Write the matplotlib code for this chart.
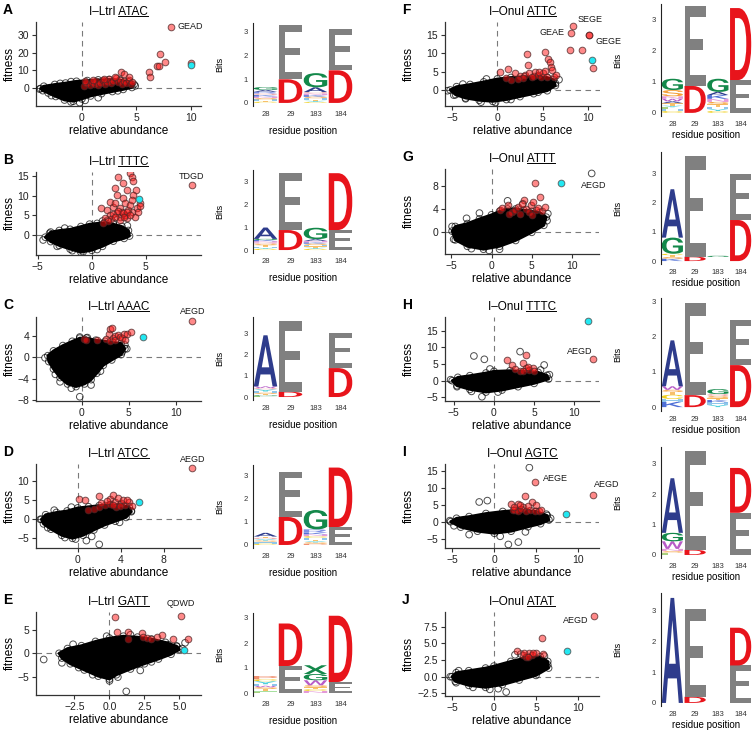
import matplotlib
matplotlib.use('Agg')
import matplotlib.pyplot as plt
from matplotlib.textpath import TextPath
from matplotlib.font_manager import FontProperties
from matplotlib.patches import PathPatch
from matplotlib.transforms import Affine2D
from matplotlib.lines import Line2D

plt.rcParams['font.family'] = ['Liberation Sans', 'DejaVu Sans']

# ---------------------------------------------------------------- data
# ---- A : I-LtrI ATAC
A_cloud_x = [-3.8, -3.5, -2.5, -1.5, -0.5, 0.5, 1.5, 2.5, 3.5, 4.3, 4.8, 4.6, 3.8, 2.8, 1.8, 0.8, 0.0, -0.8, -1.6, -2.4, -3.1, -3.6]
A_cloud_y = [-0.3, 1.0, 2.0, 2.8, 3.8, 4.2, 4.6, 4.8, 4.5, 3.5, 2.0, 0.3, -0.8, -2.0, -3.2, -4.5, -6.2, -7.5, -6.8, -4.8, -2.8, -1.5]
A_hol_x = [-3.9, -1.0, -0.2, 1.5, -2.8, 0.3, -2.0, -1.0, 4.9, 3.3]
A_hol_y = [-0.6, -7.9, -8.3, -5.5, -4.3, -7.0, 2.6, 3.6, 1.2, -1.6]
A_red_x = [0.2, 0.4, 0.7, 0.9, 1.1, 1.3, 1.5, 1.7, 1.9, 2.1, 2.3, 2.5, 2.7, 2.9, 3.1, 3.3, 3.5, 3.7, 3.9, 4.1, 4.3, 4.5, 4.6, 3.0, 2.0, 1.0, 0.3, 3.6, 3.9, 4.3,
           6.2, 6.3, 6.9, 7.05, 7.2, 7.6, 10.0]
A_red_y = [1.2, 2.6, 1.8, 3.4, 2.4, 4.0, 1.6, 3.0, 4.4, 2.2, 3.6, 5.0, 2.8, 4.2, 5.6, 3.2, 4.8, 2.4, 4.0, 3.0, 4.6, 2.2, 3.6, 6.5, 5.2, 4.6, 3.8, 9.0, 8.0, 6.3,
           9.3, 6.2, 12.2, 12.6, 19.0, 14.6, 13.9]
A_cyan_x = [10.0]
A_cyan_y = [13.0]
A_lab_x = [8.2]
A_lab_y = [34.6]
A_lab_txt = ['GEAD']
A_lab_red = [True]

# ---- B : I-LtrI TTTC
B_cloud_x = [-4.3, -3.8, -3.0, -2.0, -1.0, -0.2, 0.5, 1.2, 2.0, 2.8, 3.4, 3.5, 3.0, 2.0, 1.0, 0.0, -1.0, -2.0, -3.0, -3.8]
B_cloud_y = [-0.5, 0.8, 1.2, 1.5, 2.2, 2.8, 3.0, 3.2, 2.8, 2.2, 1.2, -0.2, -0.8, -1.5, -2.8, -3.8, -4.3, -3.5, -2.6, -1.6]
B_hol_x = [-4.5, -3.2, -1.8, -0.8, 0.5, 1.0, 1.5, 2.0, -3.9, -2.5, 3.3]
B_hol_y = [-1.2, -2.8, -3.9, -4.2, -3.6, 3.6, 3.8, 3.3, 0.5, 1.8, 2.4]
B_red_x = [2.47, 3.55, 3.70, 2.93, 3.85, 2.16, 3.24, 4.10, 2.31, 1.69, 2.93, 3.85, 4.47, 4.17, 3.70, 4.0, 0.85, 1.39, 2.0, 2.62,
           3.08, 3.39, 2.31, 1.69, 1.23, 2.62, 3.08, 3.55, 2.78, 2.16, 3.70, 3.24, 2.0, 2.4, 2.9, 3.3, 1.8, 2.6, 3.0, 1.5,
           1.0, 2.2, 3.5, 4.3, 4.5]
B_red_y = [14.8, 15.7, 14.8, 13.2, 13.6, 11.9, 11.5, 11.5, 10.2, 8.5, 9.4, 10.2, 8.1, 6.8, 6.0, 4.7, 6.8, 6.4, 7.2, 6.8,
           8.1, 6.4, 5.6, 5.1, 4.3, 4.7, 5.1, 7.7, 6.0, 8.1, 8.9, 4.3, 5.5, 6.2, 5.6, 6.0, 4.0, 3.8, 4.5, 3.5,
           3.2, 4.6, 5.2, 5.8, 7.3]
B_cyan_x = [4.4]
B_cyan_y = [9.1]
B_lab_x = [9.26]
B_lab_y = [12.7]
B_lab_txt = ['TDGD']
B_lab_red = [True]

# ---- C : I-LtrI AAAC
C_cloud_x = [-3.6, -3.0, -2.0, -1.0, -0.2, 0.5, 1.5, 2.5, 3.3, 4.2, 4.6, 4.2, 3.2, 2.3, 1.6, 1.0, 0.3, -0.6, -1.5, -2.3, -3.0, -3.5]
C_cloud_y = [0.3, 1.2, 2.2, 3.0, 3.6, 3.6, 3.2, 3.0, 2.8, 2.6, 1.6, 0.5, -0.5, -1.5, -3.0, -4.2, -5.0, -5.5, -5.0, -3.8, -2.2, -0.8]
C_hol_x = [-3.9, -0.2, 1.0, -1.1, -2.3, -0.2, 0.6, 4.6, 4.8, 4.3, -2.8, 2.0]
C_hol_y = [-0.1, -7.4, -5.2, -5.8, -4.6, 3.8, 3.7, 2.3, 1.6, 1.0, -3.2, -2.6]
C_red_x = [0.2, 0.5, 1.6, 2.9, 3.0, 3.2, 2.6, 3.0, 3.3, 3.6, 3.5, 3.9, 4.1, 4.3, 4.5, 4.8, 5.2, 4.6]
C_red_y = [3.4, 3.2, 3.3, 4.3, 5.3, 5.5, 3.5, 3.1, 3.6, 4.0, 3.3, 4.1, 3.8, 3.6, 4.3, 4.4, 4.7, 3.3]
C_cyan_x = [6.49]
C_cyan_y = [3.87]
C_lab_x = [11.77]
C_lab_y = [6.9]
C_lab_txt = ['AEGD']
C_lab_red = [True]

# ---- D : I-LtrI ATCC
D_cloud_x = [-3.4, -3.0, -2.0, -1.0, 0.0, 1.0, 2.0, 3.0, 4.0, 4.8, 5.0, 4.5, 3.5, 2.5, 1.5, 0.5, -0.5, -1.5, -2.5, -3.2]
D_cloud_y = [0.0, 1.2, 1.8, 2.2, 3.0, 3.3, 3.6, 3.8, 3.8, 3.2, 2.0, 0.5, -0.5, -1.5, -2.8, -4.2, -5.0, -4.2, -2.6, -1.2]
D_hol_x = [-3.5, -2.8, -0.2, 0.8, 2.0, 1.3, -1.2, 3.9, 5.0, -2.2, -0.6]
D_hol_y = [0.0, -2.2, -5.2, -5.6, -6.6, -4.5, -4.8, -0.8, 2.2, 2.4, 3.2]
D_red_x = [0.1, 0.7, 2.0, 3.0, 3.3, 2.5, 3.0, 3.5, 3.8, 4.0, 4.4, 4.8, 5.1, 1.5, 2.0, 1.0, 3.6, 4.2, 2.7, 4.6, 2.2, 3.3, 3.9]
D_red_y = [5.3, 5.2, 6.0, 5.3, 6.3, 3.7, 4.0, 4.5, 5.5, 4.2, 3.8, 4.5, 3.5, 2.8, 3.3, 2.5, 3.2, 5.0, 4.8, 5.2, 4.3, 3.7, 3.6]
D_cyan_x = [5.67]
D_cyan_y = [4.6]
D_lab_x = [10.7]
D_lab_y = [13.4]
D_lab_txt = ['AEGD']
D_lab_red = [True]

# ---- E : I-LtrI GATT
E_cloud_x = [-3.6, -3.0, -2.0, -1.0, 0.0, 1.0, 2.0, 3.0, 4.0, 4.8, 5.0, 4.4, 3.5, 2.5, 1.5, 0.5, 0.0, -0.8, -1.8, -2.8, -3.4]
E_cloud_y = [0.0, 1.0, 1.6, 2.5, 3.2, 3.6, 3.4, 3.0, 2.3, 1.5, 0.8, -0.2, -1.2, -2.2, -3.3, -4.5, -5.4, -4.8, -3.5, -2.2, -1.0]
E_hol_x = [-4.7, -3.4, -2.2, -1.2, 0.0, 0.6, 1.2, 2.2, 4.2, 4.8, 5.2, 5.4, -0.2, 1.5, -2.6, 3.0]
E_hol_y = [-1.3, -2.0, -3.0, -4.5, -5.8, -5.0, -8.0, -3.6, 1.8, 1.5, 1.0, 2.2, 3.6, 3.9, 1.9, -1.8]
E_red_x = [0.39, 0.51, 1.34, 1.34, 2.3, 2.37, 2.65, 3.0, 3.37, 3.73, 4.56, 5.63]
E_red_y = [7.56, 4.41, 4.54, 3.0, 4.2, 3.5, 3.15, 3.0, 3.5, 3.85, 3.0, 3.0]
E_cyan_x = [5.3]
E_cyan_y = [0.7]
E_lab_x = [5.1]
E_lab_y = [7.9]
E_lab_txt = ['QDWD']
E_lab_red = [True]

# ---- F : I-OnuI ATTC
F_cloud_x = [-5.2, -4.5, -3.0, -1.5, 0.0, 1.5, 3.0, 4.5, 5.5, 6.2, 6.4, 5.5, 4.0, 2.5, 1.0, -0.5, -2.0, -3.5, -4.6]
F_cloud_y = [0.0, 0.9, 1.5, 2.2, 3.0, 3.4, 3.6, 3.6, 3.4, 2.8, 1.2, -0.2, -1.0, -1.8, -2.6, -3.1, -2.8, -2.2, -1.3]
F_hol_x = [-5.5, -4.8, -3.5, -1.8, -0.2, 1.5, 4.5, 6.4, 6.8, -1.2, -3.8]
F_hol_y = [-0.2, -1.4, -2.4, -3.3, -3.4, -2.6, -0.6, 1.8, 2.8, 3.0, 1.6]
F_red_x = [0.3, 1.0, 1.2, 2.0, 2.5, 3.0, 3.4, 3.24, 3.5, 4.0, 4.2, 4.5, 4.8, 5.0, 5.26, 5.3, 5.5, 5.6, 5.8, 5.9, 6.0, 6.2, 6.5,
           2.8, 3.8, 4.6, 1.5, 2.3, 8.0, 9.3, 10.5, 10.15]
F_red_y = [5.0, 3.2, 5.6, 4.5, 3.8, 4.2, 6.8, 9.8, 4.5, 3.8, 5.0, 4.0, 3.4, 4.5, 10.3, 5.2, 3.6, 8.4, 7.5, 6.3, 5.5, 3.5, 4.1,
           3.2, 3.5, 4.8, 2.8, 3.0, 10.9, 10.9, 5.9, 15.0]
F_cyan_x = [10.4]
F_cyan_y = [8.2]
F_lab_x = [8.3, 8.1, 10.15]
F_lab_y = [17.5, 15.6, 15.0]
F_lab_txt = ['SEGE', 'GEAE', 'GEGE']
F_lab_red = [True, True, True]

# ---- G : I-OnuI ATTT
G_cloud_x = [-4.9, -4.5, -3.0, -1.5, 0.0, 1.0, 2.0, 3.0, 4.0, 5.0, 6.0, 6.8, 6.5, 5.0, 3.0, 1.0, -1.0, -3.0, -4.5]
G_cloud_y = [0.2, 1.0, 1.5, 2.3, 3.0, 3.6, 4.0, 4.0, 3.8, 3.6, 3.4, 2.6, 1.2, 0.0, -1.4, -2.4, -2.9, -2.4, -1.3]
G_hol_x = [-4.9, -4.7, -3.1, -1.5, -2.5, -0.3, 1.0, 2.0, 3.9, 6.9, 7.0]
G_hol_y = [1.0, -1.2, 2.4, 3.3, -2.8, -3.1, -2.9, 5.4, 4.9, 2.0, 3.2]
G_red_x = [1.1, 1.3, 2.0, 2.5, 2.9, 3.3, 3.6, 4.0, 4.3, 4.6, 4.9, 5.2, 5.5, 5.0, 5.8, 6.0, 6.3, 6.7, 5.4, 3.8, 2.2]
G_red_y = [3.9, 4.2, 4.7, 3.5, 3.8, 4.3, 3.2, 5.5, 4.0, 3.4, 4.6, 5.2, 3.8, 3.0, 4.2, 6.1, 3.6, 4.4, 8.4, 4.8, 3.1]
G_cyan_x = [8.68]
G_cyan_y = [8.5]
G_lab_x = [12.45]
G_lab_y = [10.1]
G_lab_txt = ['AEGD']
G_lab_red = [False]

# ---- H : I-OnuI TTTC
H_cloud_x = [-5.2, -4.5, -3.0, -1.0, 0.0, 2.0, 4.0, 5.5, 6.6, 6.8, 5.0, 3.0, 1.0, -1.0, -3.0, -4.6]
H_cloud_y = [0.0, 1.0, 1.5, 2.3, 2.8, 3.0, 2.8, 2.5, 1.6, 0.5, -0.8, -1.8, -2.8, -3.4, -2.6, -1.5]
H_hol_x = [-5.4, -4.6, -2.5, -1.2, -1.5, -2.8, 0.5, 3.25, 6.25, 6.9, 5.8, -0.5]
H_hol_y = [0.3, -1.8, 7.4, 6.4, -4.8, -3.2, -3.4, 8.7, 4.7, 1.8, 3.2, 3.5]
H_red_x = [1.67, 3.96, 3.58, 2.2, 3.3, 4.0, 4.4, 4.8, 5.0, 3.6, 4.2, 2.6]
H_red_y = [6.2, 7.7, 5.4, 4.7, 3.0, 3.8, 3.2, 3.8, 3.0, 2.8, 4.2, 3.4]
H_cyan_x = [11.7]
H_cyan_y = [17.9]
H_lab_x = [12.3]
H_lab_y = [6.4]
H_lab_txt = ['AEGD']
H_lab_red = [True]

# ---- I : I-OnuI AGTC
I_cloud_x = [-5.2, -4.5, -3.0, -1.0, 1.0, 3.0, 5.0, 6.3, 6.5, 5.5, 4.0, 2.0, 0.0, -2.0, -4.0]
I_cloud_y = [0.0, 1.0, 1.5, 2.4, 3.0, 3.4, 3.0, 1.8, 0.5, -0.6, -1.5, -2.8, -3.4, -2.8, -1.6]
I_hol_x = [-5.3, -4.8, -3.0, -1.8, -0.83, 0.7, 1.67, 2.86, 3.7, 6.2, 6.7, 4.17]
I_hol_y = [0.3, -1.2, -3.8, 5.8, 6.2, -4.3, -6.7, -6.0, -3.0, 2.2, 1.0, 15.9]
I_red_x = [3.65, 2.0, 2.5, 2.8, 3.4, 4.45, 5.0, 2.2, 2.8, 3.2, 3.8, 4.2, 4.8, 5.3, 5.6, 3.0, 4.0, 2.4]
I_red_y = [7.5, 5.3, 3.5, 5.2, 4.4, 5.8, 5.0, 3.4, 3.0, 3.8, 3.0, 3.5, 3.2, 3.0, 3.3, 4.8, 4.5, 4.2]
I_cyan_x = [8.54]
I_cyan_y = [2.2]
I_lab_x = [4.9, 11.7]
I_lab_y = [11.8, 7.8]
I_lab_txt = ['AEGE', 'AEGD']
I_lab_red = [True, True]

# ---- J : I-OnuI ATAT
J_cloud_x = [-5.0, -4.5, -3.0, -1.0, 0.0, 2.0, 4.0, 5.5, 6.4, 6.5, 5.0, 3.0, 1.0, -1.0, -3.0, -4.6]
J_cloud_y = [0.0, 0.6, 0.9, 1.3, 1.6, 2.3, 2.9, 3.0, 2.3, 1.3, 0.2, -0.5, -1.2, -1.6, -1.3, -0.7]
J_hol_x = [-5.2, -4.5, -2.5, -0.5, 1.45, 0.5, 2.5, 3.2, 6.0, 6.4, -4.2]
J_hol_y = [0.0, -0.9, -1.6, -1.9, -2.3, -1.8, 3.3, 3.4, 3.1, 1.8, 0.9]
J_red_x = [5.67, 2.75, 3.4, 3.8, 4.2, 4.5, 5.0, 5.8, 4.7, 3.6, 4.0]
J_red_y = [5.8, 3.9, 3.3, 3.0, 3.5, 3.3, 3.5, 3.4, 3.6, 3.6, 3.0]
J_cyan_x = [8.65]
J_cyan_y = [3.9]
J_lab_x = [11.9]
J_lab_y = [9.2]
J_lab_txt = ['AEGD']
J_lab_red = [True]

# ---- titles
enzymes = ['I–LtrI'] * 5 + ['I–OnuI'] * 5
targets = ['ATAC', 'TTTC', 'AAAC', 'ATCC', 'GATT', 'ATTC', 'ATTT', 'TTTC', 'AGTC', 'ATAT']
panel_letters = ['A', 'B', 'C', 'D', 'E', 'F', 'G', 'H', 'I', 'J']

# ---- sequence logos: residue positions and stacks (letter, bits) bottom -> top
residues = ['28', '29', '183', '184']
logo_A = [[('C', .05), ('T', .05), ('H', .05), ('S', .06), ('N', .06), ('K', .06), ('Q', .07), ('R', .07), ('A', .08), ('G', .12)],
          [('D', 1.0), ('E', 2.3)],
          [('C', .04), ('Y', .05), ('T', .05), ('H', .06), ('S', .06), ('K', .07), ('N', .07), ('Q', .06), ('A', .2), ('G', .6)],
          [('D', 1.38), ('E', 1.75)]]
logo_B = [[('C', .05), ('Y', .05), ('H', .05), ('T', .06), ('S', .06), ('Q', .06), ('N', .06), ('K', .05), ('G', .05), ('A', .5)],
          [('D', .88), ('E', 2.5)],
          [('C', .05), ('Y', .05), ('T', .06), ('H', .06), ('S', .06), ('K', .06), ('N', .06), ('A', .08), ('G', .5)],
          [('E', .88), ('D', 2.5)]]
logo_C = [[('L', .04), ('G', .04), ('T', .06), ('S', .06), ('H', .06), ('Y', .1), ('Q', .06), ('W', .08), ('A', 2.4)],
          [('D', .25), ('E', 3.3)],
          [],
          [('D', 1.36), ('E', 1.64)]]
logo_D = [[('C', .06), ('H', .08), ('S', .05), ('Y', .06), ('Q', .06), ('T', .05), ('A', .16)],
          [('D', 1.2), ('E', 1.95)],
          [('P', .05), ('S', .06), ('Y', .06), ('T', .06), ('H', .08), ('C', .07), ('N', .08), ('K', .07), ('R', .14), ('G', .83)],
          [('E', .77), ('D', 2.55)]]
logo_E = [[('L', .05), ('I', .05), ('T', .06), ('S', .07), ('W', .06), ('H', .06), ('Y', .12), ('C', .08), ('P', .13)],
          [('E', 1.08), ('D', 1.7)],
          [('N', .08), ('C', .07), ('T', .08), ('S', .08), ('W', .2), ('G', .25), ('X', .35)],
          [('E', .44), ('D', 2.65)]]
logo_F = [[('C', .06), ('H', .06), ('L', .06), ('Y', .05), ('T', .08), ('A', .06), ('W', .08), ('N', .08), ('S', .2), ('G', .36)],
          [('D', .86), ('E', 2.55)],
          [('C', .06), ('Y', .06), ('H', .08), ('T', .07), ('S', .08), ('N', .1), ('K', .12), ('A', .1), ('G', .42)],
          [('E', 1.05), ('D', 2.3)]]
logo_G = [[('K', .08), ('S', .06), ('T', .06), ('C', .05), ('G', .55), ('A', 1.65)],
          [('D', .15), ('E', 3.45)],
          [(' ', .14), ('G', .04)],
          [('D', 1.4), ('E', 1.57)]]
logo_H = [[('K', .15), ('H', .08), ('C', .12), ('T', .08), ('S', .06), ('W', .1), ('A', 1.3)],
          [('D', .34), ('E', 2.6)],
          [('Y', .06), ('H', .08), ('K', .06), ('T', .05), ('S', .06), ('Q', .06), ('G', .14)],
          [('D', 1.19), ('E', 1.27)]]
logo_I = [[('L', .08), ('S', .05), ('N', .07), ('W', .25), ('G', .28), ('A', 1.8)],
          [('D', .17), ('E', 3.25)],
          [],
          [('E', 1.39), ('D', 1.48)]]
logo_J = [[('A', 3.42)],
          [('D', .2), ('E', 2.86)],
          [],
          [('E', 1.22), ('D', 1.23)]]

# ---------------------------------------------------------------- style
W, H = 753, 730
fig = plt.figure(figsize=(W / 100, H / 100), dpi=100)

COLORS = {'E': '#808080', 'D': '#E8141B', 'A': '#2E3C8C', 'G': '#13884A',
          'S': '#F5A03A', 'T': '#F7C06A', 'C': '#F0D020', 'Y': '#4FD0DC',
          'H': '#8FC6EA', 'K': '#4F6FD6', 'R': '#7F8FE6', 'N': '#E49AD8',
          'Q': '#F3A6A6', 'W': '#B85CC8', 'L': '#A8D080', 'I': '#A8E0A0',
          'V': '#13884A', 'X': '#13884A', 'P': '#F09070', 'M': '#60C0B0', 'F': '#F080B0',
          ' ': 'none'}
LOGO_FP = FontProperties(family='Roboto', weight='medium')


def px_axes(l, t, r, b):
    return fig.add_axes([l / W, 1 - b / H, (r - l) / W, (b - t) / H])


def fy(y):
    return 1 - y / H


def fx(x):
    return x / W


SC_BOX = [(36, 22, 201, 106), (36, 172, 201, 255), (36, 317, 201, 401), (36, 464, 201, 548), (36, 612, 201, 695),
          (445, 22, 600, 106), (445, 169, 599, 254), (445, 317, 599, 401), (445, 464, 599, 548), (445, 612, 599, 696)]
SC_XLIM = [(-4.22, 10.95), (-5.16, 10.12), (-4.86, 12.7), (-3.9, 11.5), (-5.25, 6.54),
           (-5.77, 11.32), (-5.78, 13.36), (-6.1, 13.08), (-5.87, 12.46), (-5.83, 12.5)]
SC_YLIM = [(-10.2, 37.4), (-5.0, 16.0), (-8.2, 7.56), (-7.55, 14.55), (-8.76, 8.68),
           (-4.36, 18.5), (-3.72, 10.86), (-6.08, 19.07), (-7.74, 16.97), (-2.9, 9.73)]
SC_XT = [[0, 5, 10], [-5, 0, 5], [0, 5, 10], [0, 4, 8], [-2.5, 0, 2.5, 5.0],
         [-5, 0, 5, 10], [-5, 0, 5, 10], [-5, 0, 5, 10], [-5, 0, 5, 10], [-5, 0, 5, 10]]
SC_YT = [[0, 10, 20, 30], [0, 5, 10, 15], [-8, -4, 0, 4], [-5, 0, 5, 10], [-5, 0, 5],
         [0, 5, 10, 15], [0, 4, 8], [-5, 0, 5, 10, 15], [-5, 0, 5, 10, 15], [-2.5, 0, 2.5, 5, 7.5]]
SC_XFMT = ['{:g}'] * 4 + ['{:.1f}'] + ['{:g}'] * 5
SC_YFMT = ['{:g}'] * 9 + ['{:.1f}']

LOGO_BOX = [(253, 23, 353, 106), (253, 170, 353, 253), (253, 317, 353, 400), (253, 465, 353, 548), (253, 613, 353, 696),
            (661, 4, 752, 116), (661, 152, 752, 264), (661, 298, 752, 411), (661, 447, 752, 558), (661, 593, 752, 706)]
LOGO_YLIM = [(-0.13, 3.38), (-0.13, 3.52), (-0.14, 3.76), (-0.13, 3.43), (-0.12, 3.2),
             (-0.1, 3.48), (-0.1, 3.72), (-0.11, 3.09), (-0.1, 3.56), (-0.1, 3.58)]

# label offsets in pixels (dx, dy up), alignment
LAB_OFF = [[(6, 0, 'left')], [(0, 9, 'center')], [(0, 9, 'center')], [(0, 9, 'center')], [(0, 12, 'center')],
           [(5, 6, 'left'), (-6, 0, 'right'), (6, -7, 'left')], [(2, -12, 'center')], [(-13, 8, 'center')],
           [(7, 3, 'left'), (14, 11, 'center')], [(-18, -5, 'center')]]

panels = []
for p in panel_letters:
    g = globals()
    panels.append(dict(cloud=(g[p + '_cloud_x'], g[p + '_cloud_y']), hol=(g[p + '_hol_x'], g[p + '_hol_y']),
                       red=(g[p + '_red_x'], g[p + '_red_y']), cyan=(g[p + '_cyan_x'], g[p + '_cyan_y']),
                       lab=(g[p + '_lab_x'], g[p + '_lab_y'], g[p + '_lab_txt'], g[p + '_lab_red'])))
logos = [logo_A, logo_B, logo_C, logo_D, logo_E, logo_F, logo_G, logo_H, logo_I, logo_J]

MS = 23
HOL_KW = dict(s=MS, facecolors='none', edgecolors=(0, 0, 0, 0.7), linewidths=0.7)
RED_KW = dict(s=MS, facecolors=(1, 0.08, 0.08, 0.5), edgecolors=(0.3, 0.15, 0.15, 0.75), linewidths=0.7)
CYAN_KW = dict(s=MS, facecolors='#22E8F2', edgecolors=(0.3, 0.3, 0.3, 0.8), linewidths=0.7)

title_objs = []
for i, pd in enumerate(panels):
    ax = px_axes(*SC_BOX[i])
    ax.set_xlim(SC_XLIM[i])
    ax.set_ylim(SC_YLIM[i])
    ax.axhline(0, color='#7a7a7a', lw=0.8, ls=(0, (5, 4)), zorder=1)
    ax.axvline(0, color='#7a7a7a', lw=0.8, ls=(0, (5, 4)), zorder=1)
    cx, cy = pd['cloud']
    ax.fill(cx, cy, facecolor='black', edgecolor='black', lw=2.0, joinstyle='round', zorder=2)
    ax.scatter(cx, cy, zorder=3, **HOL_KW)
    ax.scatter(*pd['hol'], zorder=3, **HOL_KW)
    ax.scatter(*pd['red'], zorder=4, **RED_KW)
    ax.scatter(*pd['cyan'], zorder=5, **CYAN_KW)
    lx, ly, lt, lr = pd['lab']
    for j in range(len(lx)):
        kw = RED_KW if lr[j] else HOL_KW
        ax.scatter([lx[j]], [ly[j]], zorder=4, clip_on=False, **kw)
        dx, dy, ha = LAB_OFF[i][j]
        ax.annotate(lt[j], (lx[j], ly[j]), xytext=(dx, dy), textcoords='offset pixels',
                    ha=ha, va='center', fontsize=6.5, color='#1a1a1a', annotation_clip=False)
    for s in ['top', 'right']:
        ax.spines[s].set_visible(False)
    for s in ['left', 'bottom']:
        ax.spines[s].set_color('#333333')
        ax.spines[s].set_linewidth(0.9)
    ax.set_xticks(SC_XT[i])
    ax.set_xticklabels([SC_XFMT[i].format(v).replace('-', '−') for v in SC_XT[i]])
    ax.set_yticks(SC_YT[i])
    ax.set_yticklabels([SC_YFMT[i].format(v).replace('-', '−') for v in SC_YT[i]])
    ax.tick_params(length=3, width=0.8, color='#333333', labelsize=7.5, labelcolor='#222222', pad=2)
    l, t, r, b = SC_BOX[i]
    fig.text(fx((l + r) / 2), fy(b + 25), 'relative abundance', ha='center', va='center', fontsize=8.5)
    fig.text(fx(10 if i < 5 else 409), fy((t + b) / 2), 'fitness', ha='center', va='center',
             rotation=90, fontsize=8.5)
    tt = fig.text(fx((l + r) / 2), fy(t - 10), enzymes[i] + ' ' + targets[i], ha='center', va='center',
                  fontsize=8.5)
    title_objs.append((tt, targets[i]))
    fig.text(fx(3 if i < 5 else 402), fy(t - 12), panel_letters[i], ha='left', va='center',
             fontsize=10, fontweight='bold')


def draw_letter(ax, ch, xc, y0, h, color, w):
    if ch == ' ' or h <= 0:
        return
    tp = TextPath((0, 0), ch, size=1, prop=LOGO_FP)
    bb = tp.get_extents()
    tr = Affine2D().translate(-bb.x0, -bb.y0).scale(w / bb.width, h / bb.height).translate(xc - w / 2, y0)
    ax.add_patch(PathPatch(tr.transform_path(tp), facecolor=color, edgecolor='none', lw=0))


for i, cols in enumerate(logos):
    ax = px_axes(*LOGO_BOX[i])
    ax.set_xlim(0.5, 4.5)
    ax.set_ylim(LOGO_YLIM[i])
    w = 0.94 if i < 5 else 0.93
    for k, col in enumerate(cols):
        y = 0.0
        for ch, hgt in col:
            draw_letter(ax, ch, k + 1, y, hgt, COLORS[ch], w)
            y += hgt
    for s in ['top', 'right', 'bottom']:
        ax.spines[s].set_visible(False)
    ax.spines['left'].set_color('#222222')
    ax.spines['left'].set_linewidth(0.8)
    ax.set_xticks([1, 2, 3, 4])
    ax.set_xticklabels(residues)
    ax.set_yticks([0, 1, 2, 3])
    ax.tick_params(length=0, labelsize=5.5, labelcolor='#333333', pad=3.5)
    l, t, r, b = LOGO_BOX[i]
    fig.text(fx((l + r) / 2), fy(b + (25 if i < 5 else 19)), 'residue position', ha='center', va='center',
             fontsize=7)
    fig.text(fx(l - (33 if i < 5 else 43)), fy((t + b) / 2), 'Bits', ha='center', va='center',
             rotation=90, fontsize=6.5)

# underline the target sequence in each title
fig.canvas.draw()
rend = fig.canvas.get_renderer()
for tt, code in title_objs:
    bb = tt.get_window_extent(rend)
    tmp = fig.text(0, 0, code, fontsize=8.5)
    wcode = tmp.get_window_extent(rend).width
    tmp.remove()
    ybase = bb.y0 + 2.0
    fig.add_artist(Line2D([(bb.x1 - wcode) / W, bb.x1 / W], [ybase / H, ybase / H],
                          transform=fig.transFigure, color='black', lw=0.7))

fig.savefig('out.png', dpi=100)
